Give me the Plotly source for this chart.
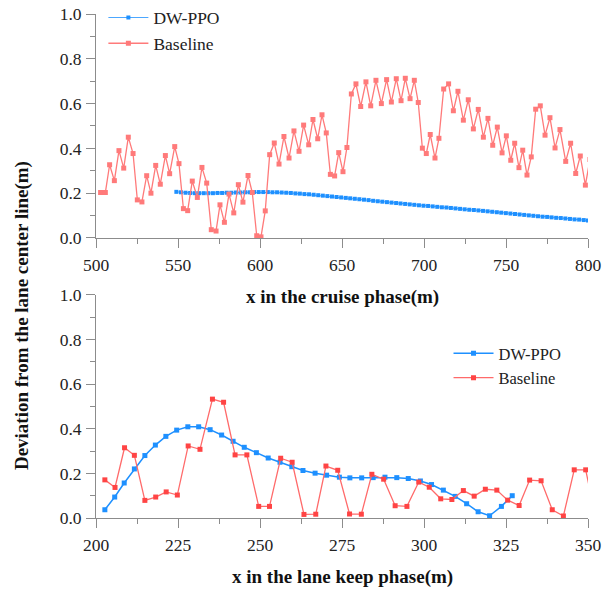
import plotly.graph_objects as go

# ---------------- data: cruise phase ----------------
cruise_base_x = [502.8, 505.7, 508.3, 511.2, 514.0, 516.9, 519.7, 522.6, 525.2, 528.0,
                 530.9, 533.5, 536.4, 539.2, 542.3, 544.9, 548.0, 550.6, 553.3, 555.9,
                 558.7, 561.8, 564.6, 567.5, 570.3, 573.2, 575.6, 578.3, 581.1, 584.0,
                 586.8, 589.6, 592.7, 595.3, 598.0, 600.6, 603.2, 605.9, 608.7, 611.6,
                 614.6, 617.7, 620.7, 623.8, 626.6, 629.7, 632.3, 635.2, 637.8, 640.4,
                 642.9, 645.5, 648.0, 650.6, 653.0, 655.7, 658.5, 661.4, 664.6, 667.5,
                 670.7, 674.0, 677.2, 680.1, 683.1, 686.0, 688.6, 691.5, 694.1, 696.5,
                 699.0, 701.4, 703.8, 706.7, 709.1, 712.0, 715.0, 717.9, 720.7, 724.0,
                 727.0, 730.1, 733.1, 736.2, 739.0, 741.9, 744.7, 747.6, 750.2, 752.9,
                 755.3, 757.9, 760.2, 762.8, 765.4, 768.1, 770.9, 773.8, 776.8, 779.9,
                 782.9, 786.4, 789.4, 792.5, 795.3, 798.4, 801.2]
cruise_base_y = [0.203, 0.203, 0.327, 0.256, 0.390, 0.312, 0.450, 0.377, 0.170, 0.161,
                 0.278, 0.200, 0.324, 0.240, 0.368, 0.287, 0.408, 0.332, 0.131, 0.122,
                 0.254, 0.181, 0.315, 0.245, 0.037, 0.031, 0.148, 0.070, 0.196, 0.112,
                 0.238, 0.160, 0.279, 0.203, 0.010, 0.005, 0.121, 0.372, 0.424, 0.330,
                 0.453, 0.357, 0.478, 0.387, 0.504, 0.416, 0.529, 0.443, 0.550, 0.469,
                 0.284, 0.277, 0.381, 0.296, 0.404, 0.643, 0.688, 0.587, 0.697, 0.590,
                 0.704, 0.600, 0.707, 0.607, 0.711, 0.613, 0.713, 0.622, 0.704, 0.605,
                 0.401, 0.377, 0.462, 0.357, 0.445, 0.665, 0.688, 0.568, 0.655, 0.526,
                 0.617, 0.487, 0.574, 0.450, 0.534, 0.414, 0.495, 0.380, 0.456, 0.347,
                 0.423, 0.314, 0.392, 0.281, 0.362, 0.575, 0.590, 0.459, 0.537, 0.402,
                 0.484, 0.342, 0.423, 0.288, 0.366, 0.236, 0.350]

cruise_dw_x = [549.0, 551.8, 554.6, 557.4, 560.2, 562.9, 565.7, 568.5, 571.3, 574.1,
               576.9, 579.7, 582.5, 585.3, 588.1, 590.9, 593.6, 596.4, 599.2, 602.0,
               604.8, 607.6, 610.4, 613.2, 616.0, 618.8, 621.6, 624.3, 627.1, 629.9,
               632.7, 635.5, 638.3, 641.1, 643.9, 646.7, 649.5, 652.3, 655.0, 657.8,
               660.6, 663.4, 666.2, 669.0, 671.8, 674.6, 677.4, 680.2, 683.0, 685.7,
               688.5, 691.3, 694.1, 696.9, 699.7, 702.5, 705.3, 708.1, 710.9, 713.7,
               716.4, 719.2, 722.0, 724.8, 727.6, 730.4, 733.2, 736.0, 738.8, 741.6,
               744.4, 747.1, 749.9, 752.7, 755.5, 758.3, 761.1, 763.9, 766.7, 769.5,
               772.3, 775.1, 777.8, 780.6, 783.4, 786.2, 789.0, 791.8, 794.6, 797.4,
               800.0]
cruise_dw_y = [0.206, 0.204, 0.202, 0.201, 0.200, 0.200, 0.200, 0.200, 0.200, 0.201,
               0.201, 0.202, 0.202, 0.203, 0.203, 0.204, 0.204, 0.205, 0.205, 0.205,
               0.205, 0.204, 0.204, 0.203, 0.202, 0.201, 0.199, 0.198, 0.196, 0.195,
               0.193, 0.191, 0.189, 0.187, 0.185, 0.183, 0.181, 0.179, 0.177, 0.175,
               0.173, 0.171, 0.169, 0.166, 0.164, 0.162, 0.160, 0.158, 0.156, 0.154,
               0.152, 0.150, 0.148, 0.146, 0.144, 0.143, 0.141, 0.139, 0.137, 0.136,
               0.134, 0.132, 0.130, 0.128, 0.126, 0.125, 0.123, 0.121, 0.119, 0.117,
               0.115, 0.113, 0.111, 0.109, 0.107, 0.105, 0.103, 0.101, 0.099, 0.097,
               0.095, 0.094, 0.092, 0.090, 0.089, 0.087, 0.085, 0.083, 0.082, 0.080,
               0.078]

# ---------------- data: lane keep phase ----------------
keep_dw_x = [202.7, 205.7, 208.6, 211.7, 214.9, 218.1, 221.3, 224.6, 228.0, 231.3,
             234.8, 238.3, 241.8, 245.2, 248.9, 252.5, 256.1, 259.7, 263.1, 266.8,
             270.3, 274.2, 277.4, 281.0, 284.5, 288.1, 291.7, 295.2, 298.9, 302.3,
             305.9, 309.5, 313.0, 316.5, 320.0, 323.6, 326.9]
keep_dw_y = [0.037, 0.094, 0.157, 0.220, 0.280, 0.327, 0.366, 0.394, 0.409, 0.409,
             0.396, 0.372, 0.344, 0.317, 0.293, 0.269, 0.250, 0.230, 0.213, 0.201,
             0.192, 0.183, 0.180, 0.180, 0.181, 0.183, 0.181, 0.177, 0.166, 0.150,
             0.125, 0.097, 0.064, 0.028, 0.010, 0.052, 0.100]
keep_base_x = [202.7, 205.8, 208.7, 211.7, 214.9, 218.2, 221.4, 224.8, 228.1, 231.7,
               235.5, 238.9, 242.4, 246.0, 249.6, 252.9, 256.3, 259.8, 263.4, 267.0,
               270.1, 273.7, 277.3, 280.9, 284.1, 287.7, 291.2, 294.8, 298.4, 301.6,
               305.1, 308.5, 312.0, 315.3, 318.7, 322.2, 325.5, 329.0, 332.2, 335.7,
               339.1, 342.5, 345.8, 349.3, 352.3]
keep_base_y = [0.171, 0.137, 0.315, 0.281, 0.079, 0.094, 0.117, 0.103, 0.323, 0.308,
               0.533, 0.519, 0.283, 0.283, 0.052, 0.052, 0.268, 0.250, 0.016, 0.017,
               0.233, 0.214, 0.018, 0.017, 0.196, 0.174, 0.055, 0.052, 0.161, 0.138,
               0.086, 0.083, 0.123, 0.098, 0.129, 0.125, 0.080, 0.056, 0.170, 0.167,
               0.037, 0.009, 0.216, 0.216, 0.005]

series_names = ["DW-PPO", "Baseline"]
cruise_ticks = [500, 550, 600, 650, 700, 750, 800]
keep_ticks = [200, 225, 250, 275, 300, 325, 350]
y_ticks = [0.0, 0.2, 0.4, 0.6, 0.8, 1.0]

assert len(cruise_base_x) == len(cruise_base_y)
assert len(cruise_dw_x) == len(cruise_dw_y)
assert len(keep_dw_x) == len(keep_dw_y)
assert len(keep_base_x) == len(keep_base_y)

FONT = "Liberation Serif"
BLUE = "#1E90FF"
RED_TOP = "#FF7A7A"
RED_BOT = "#FF4444"
AXC = "#8c8c8c"

fig = go.Figure()
fig.add_trace(go.Scatter(x=cruise_dw_x, y=cruise_dw_y, name=series_names[0],
                         mode="lines+markers", line=dict(color=BLUE, width=0.8),
                         marker=dict(symbol="square", size=4, color=BLUE),
                         xaxis="x", yaxis="y", legend="legend"))
fig.add_trace(go.Scatter(x=cruise_base_x, y=cruise_base_y, name=series_names[1],
                         mode="lines+markers", line=dict(color=RED_TOP, width=1.3),
                         marker=dict(symbol="square", size=5, color=RED_TOP),
                         xaxis="x", yaxis="y", legend="legend"))
fig.add_trace(go.Scatter(x=keep_dw_x, y=keep_dw_y, name=series_names[0],
                         mode="lines+markers", line=dict(color=BLUE, width=1.5),
                         marker=dict(symbol="square", size=5, color=BLUE),
                         xaxis="x2", yaxis="y2", legend="legend2"))
fig.add_trace(go.Scatter(x=keep_base_x, y=keep_base_y, name=series_names[1],
                         mode="lines+markers", line=dict(color="#FF6A6A", width=1.3),
                         marker=dict(symbol="square", size=5, color=RED_BOT),
                         xaxis="x2", yaxis="y2", legend="legend2"))

tickfont = dict(family=FONT, size=17.5, color="#222")
common_x = dict(showline=True, linecolor=AXC, linewidth=1, ticks="outside", ticklen=9,
                tickcolor=AXC, showgrid=False, zeroline=False, tickfont=tickfont,
                ticklabelstandoff=2, ticklabeloverflow="allow")
common_y = dict(showline=True, linecolor=AXC, linewidth=1, ticks="outside", ticklen=9,
                tickcolor=AXC, showgrid=False, zeroline=False, tickfont=tickfont,
                ticklabelstandoff=1, ticklabeloverflow="allow",
                range=[0, 1], tickvals=y_ticks, tickformat=".1f",
                minor=dict(dtick=0.1, ticks="outside", ticklen=5, tickcolor=AXC, showgrid=False))

fig.update_layout(
    width=614, height=589,
    margin=dict(l=96, r=26, t=14, b=71, autoexpand=False),
    paper_bgcolor="white", plot_bgcolor="white",
    font=dict(family=FONT, color="#222"),
    xaxis=dict(domain=[0, 1], anchor="y", range=[500, 800], tickvals=cruise_ticks,
               minor=dict(dtick=25, tick0=500, ticks="outside", ticklen=5, tickcolor=AXC, showgrid=False),
               **common_x),
    yaxis=dict(domain=[0.5556, 1], anchor="x", **common_y),
    xaxis2=dict(domain=[0, 1], anchor="y2", range=[200, 350], tickvals=keep_ticks,
                minor=dict(dtick=12.5, tick0=200, ticks="outside", ticklen=5, tickcolor=AXC, showgrid=False),
                **common_x),
    yaxis2=dict(domain=[0, 0.4425], anchor="x2", **common_y),
    legend=dict(x=0.015, y=0.967, xanchor="left", yanchor="middle", bgcolor="rgba(0,0,0,0)",
                font=dict(family=FONT, size=17.5, color="#222"), tracegroupgap=0, itemwidth=40),
    legend2=dict(x=0.7165, y=0.3026, xanchor="left", yanchor="middle", bgcolor="rgba(0,0,0,0)",
                 font=dict(family=FONT, size=16.5, color="#222"), tracegroupgap=0, itemwidth=40),
    annotations=[
        dict(text="<b>x in the cruise phase(m)</b>", xref="paper", yref="paper",
             x=0.5, y=0.4385, xanchor="center", yanchor="middle", showarrow=False,
             font=dict(family=FONT, size=19, color="#111")),
        dict(text="<b>x in the lane keep phase(m)</b>", xref="paper", yref="paper",
             x=0.5, y=-0.117, xanchor="center", yanchor="middle", showarrow=False,
             font=dict(family=FONT, size=19, color="#111")),
        dict(text="<b>Deviation from the lane center line(m)</b>", xref="paper", yref="paper",
             x=-0.150, y=0.401, xanchor="center", yanchor="middle", showarrow=False,
             textangle=-90, font=dict(family=FONT, size=19, color="#111")),
    ],
)

# remove the default 8px page margin so the 614x589 figure fills the window exactly
fig.write_html("out.html", config={"displayModeBar": False},
               post_script="document.body.style.margin='0';")
